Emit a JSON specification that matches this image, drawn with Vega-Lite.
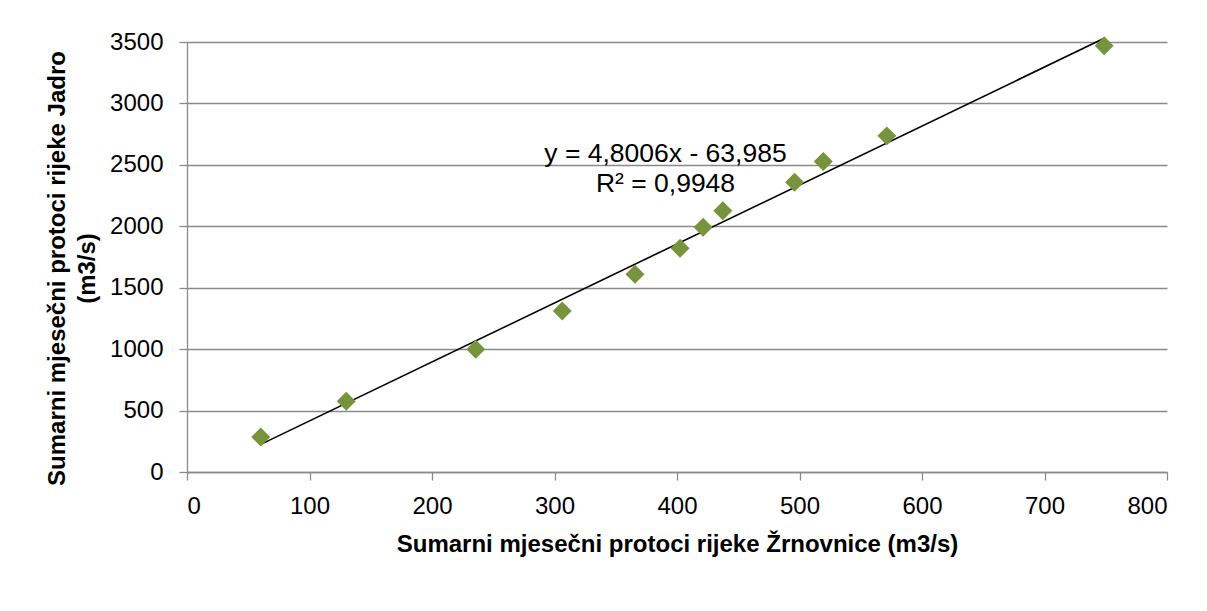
{
  "$schema": "https://vega.github.io/schema/vega-lite/v6.json",
  "width": 980,
  "height": 430,
  "autosize": {"type": "none"},
  "padding": {"left": 187, "top": 42, "right": 40, "bottom": 139},
  "background": "white",
  "config": {
    "view": {"stroke": null},
    "font": "Liberation Sans",
    "axis": {
      "labelFont": "Liberation Sans",
      "titleFont": "Liberation Sans",
      "labelFontSize": 24,
      "labelColor": "#000000",
      "titleFontSize": 24,
      "titleFontWeight": "bold",
      "titleColor": "#000000",
      "gridColor": "#8a8a8a",
      "gridWidth": 1.3,
      "gridOpacity": 1,
      "domainColor": "#8a8a8a",
      "domainWidth": 1.3,
      "tickColor": "#8a8a8a",
      "tickWidth": 1.3,
      "tickSize": 8,
      "format": "d"
    }
  },
  "datasets": {
    "points": [
      {"zrnovnica": 60.2, "jadro": 285},
      {"zrnovnica": 130, "jadro": 576},
      {"zrnovnica": 235.7, "jadro": 1000},
      {"zrnovnica": 306.3, "jadro": 1310},
      {"zrnovnica": 365.7, "jadro": 1609},
      {"zrnovnica": 402.5, "jadro": 1821},
      {"zrnovnica": 421.3, "jadro": 1992},
      {"zrnovnica": 437.4, "jadro": 2127},
      {"zrnovnica": 496, "jadro": 2359},
      {"zrnovnica": 519.4, "jadro": 2527},
      {"zrnovnica": 571.3, "jadro": 2736},
      {"zrnovnica": 748.7, "jadro": 3470}
    ],
    "trend": [
      {"zrnovnica": 60.2, "jadro": 225},
      {"zrnovnica": 748.7, "jadro": 3530}
    ],
    "labels": [
      {"zrnovnica": 390.6, "jadro": 2526, "text": "y = 4,8006x - 63,985"},
      {"zrnovnica": 390.6, "jadro": 2282, "text": "R² = 0,9948"}
    ]
  },
  "layer": [
    {
      "data": {"name": "trend"},
      "mark": {"type": "line", "color": "#000000", "strokeWidth": 1.6},
      "encoding": {
        "x": {
          "field": "zrnovnica",
          "type": "quantitative",
          "scale": {"domain": [0, 800], "nice": false, "zero": false},
          "axis": {
            "title": "Sumarni mjesečni protoci rijeke Žrnovnice (m3/s)",
            "values": [0, 100, 200, 300, 400, 500, 600, 700, 800],
            "format": "d",
            "grid": false,
            "labelPadding": 14,
            "titleBaseline": "alphabetic",
            "titleY": 79,
            "titleX": 490
          }
        },
        "y": {
          "field": "jadro",
          "type": "quantitative",
          "scale": {"domain": [0, 3500], "nice": false},
          "axis": {
            "title": ["Sumarni mjesečni protoci rijeke Jadro", "(m3/s)"],
            "values": [0, 500, 1000, 1500, 2000, 2500, 3000, 3500],
            "format": "d",
            "grid": true,
            "labelPadding": 16,
            "titleAngle": -90,
            "titleAlign": "center",
            "titleBaseline": "alphabetic",
            "titleLineHeight": 30,
            "titleX": -123,
            "titleY": 226
          }
        }
      }
    },
    {
      "data": {"name": "points"},
      "mark": {"type": "point", "shape": "diamond", "filled": true, "color": "#77933C", "opacity": 1, "size": 360},
      "encoding": {
        "x": {"field": "zrnovnica", "type": "quantitative"},
        "y": {"field": "jadro", "type": "quantitative"}
      }
    },
    {
      "data": {"name": "labels"},
      "mark": {"type": "text", "font": "Liberation Sans", "fontSize": 26.5, "color": "#000000", "align": "center", "baseline": "alphabetic"},
      "encoding": {
        "x": {"field": "zrnovnica", "type": "quantitative"},
        "y": {"field": "jadro", "type": "quantitative"},
        "text": {"field": "text"}
      }
    }
  ]
}
